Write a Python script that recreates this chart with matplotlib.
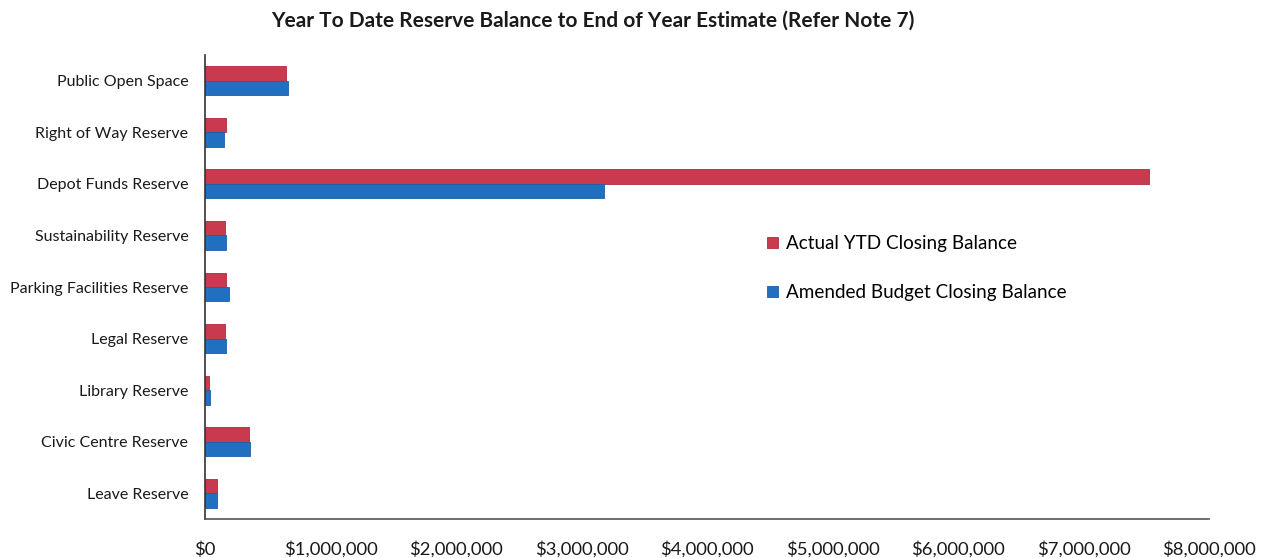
import matplotlib.pyplot as plt
import numpy as np
from matplotlib.ticker import FuncFormatter

categories = [
    "Public Open Space",
    "Right of Way Reserve",
    "Depot Funds Reserve",
    "Sustainability Reserve",
    "Parking Facilities Reserve",
    "Legal Reserve",
    "Library Reserve",
    "Civic Centre Reserve",
    "Leave Reserve",
]
actual_ytd = [648000, 165000, 7520000, 157000, 165000, 162000, 32000, 348000, 93000]
amended_budget = [659000, 151000, 3177000, 165000, 189000, 165000, 43000, 359000, 93000]
series_labels = ["Actual YTD Closing Balance", "Amended Budget Closing Balance"]
x_ticks = [0, 1000000, 2000000, 3000000, 4000000, 5000000, 6000000, 7000000, 8000000]

plt.rcParams["font.family"] = ["Lato", "DejaVu Sans"]

fig = plt.figure(figsize=(12.67, 5.58), dpi=100)
ax = fig.add_axes([0.1618, 0.0699, 0.7924, 0.8315])

red = "#CA3A4E"
blue = "#2170C0"
y = np.arange(len(categories))
h = 0.28
ax.barh(y - h / 2, actual_ytd, height=h, color=red, edgecolor="#B02A3E", linewidth=0.6,
        label=series_labels[0])
ax.barh(y + h / 2, amended_budget, height=h, color=blue, edgecolor="#1A5FA8", linewidth=0.6,
        label=series_labels[1])

ax.set_ylim(len(categories) - 0.5, -0.5)
ax.set_yticks(y)
ax.set_yticklabels(categories, fontsize=11.5, color="#1a1a1a")
ax.set_xlim(0, 8000000)
ax.set_xticks(x_ticks)
ax.xaxis.set_major_formatter(FuncFormatter(lambda v, p: "${:,.0f}".format(v)))
ax.tick_params(axis="x", length=0, pad=16, labelsize=13.3, labelcolor="#1a1a1a")
ax.tick_params(axis="y", length=0, pad=12)

for s in ["top", "right"]:
    ax.spines[s].set_visible(False)
ax.spines["left"].set_color("#333333")
ax.spines["bottom"].set_color("#555555")
ax.spines["left"].set_linewidth(1.2)
ax.spines["bottom"].set_linewidth(1.2)

fig.text(0.468, 0.963, "Year To Date Reserve Balance to End of Year Estimate (Refer Note 7)",
         ha="center", va="center", fontsize=15, fontweight="bold", color="#1a1a1a")

ax.legend(loc="upper left", bbox_to_anchor=(0.543, 0.648), frameon=False,
          fontsize=13.6, handlelength=0.55, handleheight=0.55, handletextpad=0.45,
          labelspacing=1.7)

fig.savefig("out.png", dpi=100, facecolor="white")
